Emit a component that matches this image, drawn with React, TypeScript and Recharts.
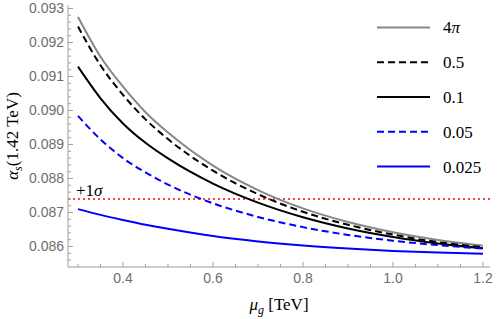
import { LineChart, Line, XAxis, YAxis, ReferenceLine, Legend, Label } from 'recharts'

// mu_g in TeV
const muG = [0.3, 0.35, 0.4, 0.45, 0.5, 0.6, 0.7, 0.8, 0.9, 1.0, 1.1, 1.2]

// alpha_s(1.42 TeV) for each coupling value
const alpha4pi = [0.09275, 0.09158, 0.0907, 0.08995, 0.08935, 0.08838, 0.08766, 0.08712, 0.08672, 0.08642, 0.08619, 0.08602]
const alpha05 = [0.09247, 0.09133, 0.09046, 0.08974, 0.08916, 0.08823, 0.08754, 0.08702, 0.08664, 0.08635, 0.08613, 0.08598]
const alpha01 = [0.09129, 0.09036, 0.08962, 0.08905, 0.08859, 0.08785, 0.08729, 0.08686, 0.08653, 0.08628, 0.08609, 0.08595]
const alpha005 = [0.08984, 0.08915, 0.0886, 0.08818, 0.08782, 0.08727, 0.08687, 0.08657, 0.08634, 0.08617, 0.08604, 0.08594]
const alpha0025 = [0.0871, 0.08693, 0.08678, 0.08664, 0.08652, 0.08631, 0.08615, 0.08603, 0.08594, 0.08587, 0.08582, 0.08579]

const sigmaUpper = 0.0874

const xMajorTicks = [0.4, 0.6, 0.8, 1.0, 1.2]
const xMinorTicks = [0.3, 0.35, 0.45, 0.5, 0.55, 0.65, 0.7, 0.75, 0.85, 0.9, 0.95, 1.05, 1.1, 1.15]
const yMajorTicks = [0.086, 0.087, 0.088, 0.089, 0.09, 0.091, 0.092, 0.093]

const xDomain = [0.2778, 1.2156]
const yDomain = [0.085397, 0.093103]

const data = muG.map((mu, i) => ({
  mu,
  a4pi: alpha4pi[i],
  a05: alpha05[i],
  a01: alpha01[i],
  a005: alpha005[i],
  a0025: alpha0025[i],
}))

const series = [
  { key: 'a4pi', text: <>4<tspan fontStyle="italic">π</tspan></>, color: '#888888', dash: undefined },
  { key: 'a05', text: <>0.5</>, color: '#000000', dash: '7 4' },
  { key: 'a01', text: <>0.1</>, color: '#000000', dash: undefined },
  { key: 'a005', text: <>0.05</>, color: '#0000ff', dash: '7 4' },
  { key: 'a0025', text: <>0.025</>, color: '#0000ff', dash: undefined },
]

// minor y ticks every 0.0002 (integer steps to avoid float drift)
const yTicks: number[] = []
for (let k = 428; k <= 465; k++) yTicks.push(k / 5000)
const xTicks = [...xMajorTicks, ...xMinorTicks].sort((a, b) => a - b)

const isMajor = (v: number, list: number[]) => list.some((m) => Math.abs(m - v) < 1e-7)

const FRAME = '#a0a0a0'
const TICK_TEXT = '#6e6e6e'
const SANS = '"Liberation Sans", Arial, sans-serif'
const SERIF = '"Liberation Serif", "Times New Roman", serif'

function BottomTick({ x, y, payload }: any) {
  const major = isMajor(payload.value, xMajorTicks)
  return (
    <g>
      <line x1={x} x2={x} y1={y} y2={y - (major ? 5 : 3)} stroke={FRAME} />
      {major && (
        <text x={x} y={y + 16} textAnchor="middle" fill={TICK_TEXT} fontSize={14} fontFamily={SANS}>
          {payload.value.toFixed(1)}
        </text>
      )}
    </g>
  )
}

function TopTick({ x, y, payload }: any) {
  const major = isMajor(payload.value, xMajorTicks)
  return <line x1={x} x2={x} y1={y} y2={y + (major ? 5 : 3)} stroke={FRAME} />
}

function LeftTick({ x, y, payload }: any) {
  const major = isMajor(payload.value, yMajorTicks)
  return (
    <g>
      <line x1={x} x2={x + (major ? 5 : 3)} y1={y} y2={y} stroke={FRAME} />
      {major && (
        <text x={x - 4} y={y} dy="0.35em" textAnchor="end" fill={TICK_TEXT} fontSize={14} fontFamily={SANS}>
          {payload.value.toFixed(3)}
        </text>
      )}
    </g>
  )
}

function RightTick({ x, y, payload }: any) {
  const major = isMajor(payload.value, yMajorTicks)
  return <line x1={x} x2={x - (major ? 5 : 3)} y1={y} y2={y} stroke={FRAME} />
}

function YTitle({ viewBox }: any) {
  const cx = 18
  const cy = viewBox.y + viewBox.height / 2
  return (
    <text x={cx} y={cy} transform={`rotate(-90 ${cx} ${cy})`} textAnchor="middle" fontFamily={SERIF} fontSize={17} fill="#000">
      <tspan fontStyle="italic">α</tspan>
      <tspan fontStyle="italic" fontSize={12} dy={4}>s</tspan>
      <tspan dy={-4}>(1.42 TeV)</tspan>
    </text>
  )
}

function XTitle({ viewBox }: any) {
  const cx = viewBox.x + viewBox.width / 2
  return (
    <text x={cx} y={viewBox.y + 43} textAnchor="middle" fontFamily={SERIF} fontSize={17} fill="#000">
      <tspan fontStyle="italic">μ</tspan>
      <tspan fontStyle="italic" fontSize={12} dy={4}>g</tspan>
      <tspan dy={-4}> [TeV]</tspan>
    </text>
  )
}

function SigmaLabel({ viewBox }: any) {
  return (
    <text x={viewBox.x + 8} y={viewBox.y - 3} fontFamily={SERIF} fontSize={17} fill="#000">
      +1<tspan fontStyle="italic">σ</tspan>
    </text>
  )
}

const ROW = 34.8

function LegendBox() {
  return (
    <svg width={120} height={ROW * series.length} style={{ display: 'block' }}>
      {series.map((s, i) => {
        const cy = ROW / 2 + i * ROW
        return (
          <g key={s.key}>
            <line x1={5} x2={58} y1={cy} y2={cy} stroke={s.color} strokeWidth={2} strokeDasharray={s.dash} />
            <text x={71} y={cy} dy="0.35em" fontFamily={SERIF} fontSize={17} fill="#000">
              {s.text}
            </text>
          </g>
        )
      })}
    </svg>
  )
}

export default function App() {
  return (
    <div style={{ position: 'absolute', left: 0, top: 0, background: '#fff' }}>
      <LineChart width={498} height={319} data={data} margin={{ top: 5, right: 8, left: 0, bottom: 0 }}>
        <XAxis
          xAxisId="b"
          dataKey="mu"
          type="number"
          domain={xDomain}
          allowDataOverflow
          ticks={xTicks}
          interval={0}
          height={52}
          tickSize={0}
          tickMargin={0}
          tickLine={false}
          axisLine={{ stroke: FRAME }}
          tick={<BottomTick />}
          label={<Label content={<XTitle />} />}
        />
        <XAxis
          xAxisId="t"
          orientation="top"
          dataKey="mu"
          type="number"
          domain={xDomain}
          allowDataOverflow
          ticks={xTicks}
          interval={0}
          height={0}
          tickSize={0}
          tickMargin={0}
          tickLine={false}
          axisLine={{ stroke: FRAME }}
          tick={<TopTick />}
        />
        <YAxis
          yAxisId="l"
          type="number"
          domain={yDomain}
          allowDataOverflow
          ticks={yTicks}
          interval={0}
          width={68}
          tickSize={0}
          tickMargin={0}
          tickLine={false}
          axisLine={{ stroke: FRAME }}
          tick={<LeftTick />}
          label={<Label content={<YTitle />} />}
        />
        <YAxis
          yAxisId="r"
          orientation="right"
          type="number"
          domain={yDomain}
          allowDataOverflow
          ticks={yTicks}
          interval={0}
          width={0}
          tickSize={0}
          tickMargin={0}
          tickLine={false}
          axisLine={{ stroke: FRAME }}
          tick={<RightTick />}
        />
        <ReferenceLine
          xAxisId="b"
          yAxisId="l"
          y={sigmaUpper}
          stroke="#ff0000"
          strokeWidth={1.5}
          strokeDasharray="2 3"
          label={<Label content={<SigmaLabel />} />}
        />
        {series.map((s) => (
          <Line
            key={s.key}
            xAxisId="b"
            yAxisId="l"
            dataKey={s.key}
            type="monotone"
            stroke={s.color}
            strokeWidth={2}
            strokeDasharray={s.dash}
            dot={false}
            isAnimationActive={false}
          />
        ))}
        <Legend
          layout="vertical"
          align="center"
          verticalAlign="middle"
          content={() => <LegendBox />}
          wrapperStyle={{ left: 372, top: 10, width: 120 }}
        />
      </LineChart>
    </div>
  )
}
